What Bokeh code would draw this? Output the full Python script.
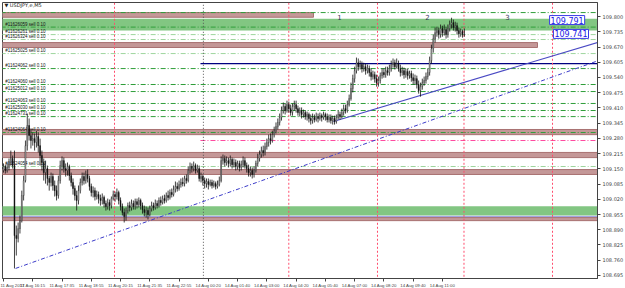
from bokeh.plotting import figure
from bokeh.models import Range1d, FixedTicker, NumeralTickFormatter, Label
from bokeh.embed import file_html
from bokeh.resources import INLINE
from bokeh.core.properties import value

# ---------------- data ----------------
first_open = 109.143
close = [109.160,109.143,109.156,109.177,109.194,109.164,108.865,108.853,108.895,108.929,
109.036,109.100,109.249,109.335,109.292,109.271,109.279,109.262,109.288,109.249,
109.207,109.177,109.134,109.151,109.109,109.092,109.117,109.079,109.057,109.036,
109.100,109.164,109.185,109.151,109.143,109.160,109.121,109.092,109.066,109.036,
109.015,109.057,109.092,109.117,109.100,109.126,109.109,109.075,109.049,109.057,
109.032,109.040,109.023,109.015,109.028,109.002,108.989,109.006,108.993,109.023,
109.040,109.032,109.049,109.015,108.989,108.964,108.947,108.972,108.993,108.985,
109.002,108.989,109.010,108.998,109.015,108.993,108.976,108.964,108.972,108.955,
108.981,108.993,108.985,109.002,108.993,109.015,109.006,109.023,109.015,109.036,
109.028,109.049,109.040,109.062,109.075,109.066,109.083,109.092,109.087,109.109,
109.100,109.143,109.160,109.151,109.164,109.143,109.151,109.109,109.117,109.100,
109.087,109.096,109.083,109.092,109.079,109.087,109.075,109.083,109.100,109.185,
109.194,109.177,109.185,109.173,109.190,109.168,109.177,109.160,109.173,109.156,
109.168,109.185,109.164,109.151,109.134,109.143,109.126,109.143,109.173,109.194,
109.211,109.228,109.220,109.245,109.262,109.279,109.271,109.296,109.313,109.330,
109.348,109.369,109.399,109.416,109.399,109.424,109.407,109.390,109.416,109.424,
109.407,109.390,109.399,109.382,109.390,109.373,109.382,109.365,109.356,109.369,
109.360,109.373,109.365,109.377,109.369,109.382,109.373,109.360,109.369,109.356,
109.365,109.352,109.369,109.382,109.373,109.390,109.407,109.399,109.424,109.450,
109.493,109.535,109.569,109.603,109.586,109.595,109.578,109.586,109.569,109.578,
109.561,109.544,109.552,109.535,109.518,109.527,109.548,109.561,109.552,109.569,
109.561,109.578,109.595,109.603,109.586,109.599,109.578,109.561,109.569,109.552,
109.565,109.548,109.557,109.539,109.527,109.535,109.510,109.484,109.501,109.518,
109.527,109.544,109.561,109.612,109.663,109.706,109.731,109.740,109.723,109.749,
109.731,109.744,109.723,109.749,109.766,109.774,109.753,109.761,109.740,109.727,
109.736,109.723,109.725]
high = [109.173,109.168,109.173,109.194,109.228,109.207,109.228,108.908,108.921,108.951,
109.057,109.121,109.271,109.386,109.365,109.313,109.305,109.301,109.313,109.305,
109.279,109.228,109.194,109.185,109.164,109.121,109.134,109.130,109.100,109.079,
109.121,109.185,109.203,109.198,109.173,109.177,109.168,109.134,109.109,109.079,
109.057,109.079,109.109,109.134,109.134,109.143,109.147,109.121,109.087,109.075,
109.070,109.057,109.053,109.040,109.045,109.036,109.015,109.023,109.019,109.032,
109.057,109.053,109.066,109.057,109.028,109.002,108.981,108.985,109.006,109.010,
109.019,109.015,109.023,109.023,109.028,109.023,109.006,108.993,108.989,108.985,
108.993,109.010,109.006,109.019,109.015,109.028,109.032,109.036,109.040,109.049,
109.057,109.062,109.066,109.079,109.096,109.092,109.100,109.109,109.113,109.121,
109.126,109.160,109.177,109.173,109.181,109.173,109.168,109.164,109.134,109.126,
109.113,109.109,109.109,109.104,109.104,109.100,109.096,109.100,109.117,109.203,
109.211,109.207,109.203,109.198,109.207,109.198,109.194,109.190,109.185,109.185,
109.185,109.203,109.198,109.177,109.168,109.160,109.156,109.160,109.185,109.215,
109.228,109.245,109.249,109.262,109.279,109.296,109.301,109.313,109.330,109.348,
109.365,109.386,109.416,109.433,109.429,109.441,109.437,109.424,109.429,109.441,
109.441,109.420,109.412,109.412,109.403,109.399,109.394,109.390,109.382,109.386,
109.382,109.390,109.386,109.390,109.386,109.394,109.390,109.386,109.382,109.382,
109.377,109.377,109.382,109.399,109.394,109.407,109.424,109.424,109.441,109.467,
109.518,109.552,109.586,109.625,109.621,109.612,109.608,109.603,109.599,109.595,
109.591,109.578,109.569,109.565,109.552,109.544,109.561,109.578,109.578,109.586,
109.586,109.595,109.612,109.621,109.616,109.621,109.612,109.595,109.586,109.582,
109.578,109.578,109.569,109.569,109.557,109.552,109.548,109.527,109.518,109.535,
109.544,109.561,109.578,109.629,109.680,109.723,109.753,109.757,109.753,109.766,
109.761,109.766,109.757,109.766,109.783,109.795,109.787,109.778,109.774,109.753,
109.749,109.744,109.749]
low = [109.134,109.130,109.134,109.143,109.164,109.151,108.725,108.780,108.836,108.874,
108.921,109.015,109.092,109.228,109.271,109.237,109.249,109.228,109.241,109.220,
109.164,109.143,109.100,109.087,109.079,109.057,109.075,109.057,109.032,109.015,
109.023,109.087,109.143,109.134,109.117,109.121,109.100,109.075,109.040,109.015,
108.972,108.998,109.045,109.079,109.083,109.087,109.092,109.057,109.032,109.028,
109.015,109.019,109.002,108.993,108.998,108.985,108.972,108.976,108.972,108.981,
109.015,109.010,109.019,108.998,108.972,108.951,108.921,108.929,108.959,108.968,
108.972,108.976,108.976,108.981,108.985,108.976,108.959,108.947,108.942,108.934,
108.947,108.968,108.972,108.976,108.981,108.985,108.993,108.998,109.002,109.006,
109.015,109.019,109.028,109.032,109.049,109.053,109.057,109.070,109.075,109.075,
109.087,109.092,109.130,109.134,109.139,109.130,109.134,109.096,109.092,109.079,
109.066,109.070,109.062,109.075,109.066,109.070,109.062,109.066,109.075,109.092,
109.168,109.160,109.164,109.156,109.160,109.151,109.156,109.143,109.147,109.139,
109.143,109.156,109.151,109.134,109.117,109.117,109.109,109.113,109.134,109.160,
109.181,109.198,109.203,109.207,109.232,109.245,109.254,109.262,109.284,109.301,
109.318,109.335,109.356,109.386,109.382,109.390,109.390,109.377,109.377,109.399,
109.390,109.377,109.373,109.365,109.369,109.360,109.356,109.348,109.339,109.343,
109.348,109.352,109.348,109.356,109.352,109.360,109.356,109.348,109.348,109.343,
109.339,109.339,109.343,109.360,109.360,109.365,109.377,109.386,109.390,109.416,
109.441,109.476,109.518,109.557,109.569,109.574,109.561,109.565,109.552,109.557,
109.544,109.527,109.531,109.518,109.501,109.501,109.514,109.535,109.539,109.539,
109.548,109.548,109.565,109.582,109.574,109.578,109.565,109.544,109.548,109.535,
109.539,109.531,109.535,109.522,109.510,109.510,109.493,109.471,109.458,109.488,
109.505,109.514,109.531,109.548,109.599,109.646,109.689,109.714,109.706,109.710,
109.714,109.719,109.706,109.710,109.736,109.749,109.740,109.736,109.723,109.710,
109.714,109.710,109.714]

time_tick_bars = [0, 16, 32, 48, 64, 80, 96, 112, 128, 144, 160, 176, 192, 208, 224, 240]
time_tick_labels = ["11 Aug 2017", "11 Aug 16:15", "11 Aug 17:35", "11 Aug 18:55", "11 Aug 20:15",
                    "11 Aug 21:35", "11 Aug 22:55", "14 Aug 00:20", "14 Aug 01:40", "14 Aug 03:00",
                    "14 Aug 04:20", "14 Aug 05:40", "14 Aug 07:00", "14 Aug 08:20", "14 Aug 09:40",
                    "14 Aug 11:00"]
price_ticks = [109.800, 109.735, 109.670, 109.605, 109.540, 109.475, 109.410, 109.345, 109.280,
               109.215, 109.150, 109.085, 109.020, 108.955, 108.890, 108.825, 108.760, 108.695]

# zones (bottom, top, right end in bars)
green_zone_bottom = [109.741, 108.951]
green_zone_top = [109.791, 108.990]
brown_zone_bottom = [109.797, 109.668, 109.296, 109.198, 109.126, 108.929]
brown_zone_top = [109.817, 109.689, 109.318, 109.220, 109.147, 108.942]
brown_zone_end = [169.5, 292.0, 330, 330, 330, 330]

# order lines
order_prices = [109.817, 109.755, 109.723, 109.702, 109.642, 109.578, 109.510, 109.480,
                109.429, 109.399, 109.373, 109.305, 109.160]
order_labels = ["", "#11626059 sell 0.10", "#11626261 sell 0.10", "#11626324 sell 0.10",
                "#11625025 sell 0.10", "#11624062 sell 0.10", "#11624060 sell 0.10",
                "#11625012 sell 0.10", "#11624063 sell 0.10", "#11625030 sell 0.10",
                "#11624731 sell 0.10", "#11624064 sell 0.10", "#11624054 sell 0.10"]
order_light = [False, False, True, True, True, False, False, False, False, False, False, False, True]

pink_level = 109.271
pink_start = 107.7
navy_level = 109.599
navy_start = 107.7
lavender_level = 108.947

trend_solid_x = [180.4, 326.0]
trend_solid_y = [109.352, 109.692]
trend_dash_x = [6.6, 326.0]
trend_dash_y = [108.725, 109.614]

red_vlines = [60.7, 156.0, 204.5, 251.8, 300.2]
day_separator = 109.3

zone_labels = ["109.791", "109.741"]
zone_label_x = [298.6, 300.7]
zone_label_y = [109.785, 109.726]

number_text = ["1", "2", "3"]
number_x = [183.7, 231.8, 275.6]
number_y = [109.800, 109.800, 109.800]

current_price_text = "109.725"

# ---------------- figure ----------------
X0, X1 = -0.55, 324.8
Y0, Y1 = 108.682, 109.860

p = figure(frame_width=595, frame_height=276, output_backend="svg", toolbar_location=None,
           x_range=Range1d(X0, X1), y_range=Range1d(Y0, Y1),
           y_axis_location="right", x_axis_location="below",
           min_border_left=2, min_border_top=2, min_border_right=28, min_border_bottom=10)
p.background_fill_color = "white"
p.border_fill_color = "white"
p.outline_line_color = "#444444"
p.xgrid.visible = False
p.ygrid.visible = False

FONT = "DejaVu Sans"
SMALL = "Liberation Sans"

# zones
p.quad(left=[X0 - 1] * 2, right=[X1 + 5] * 2, bottom=green_zone_bottom, top=green_zone_top,
       fill_color="#82c682", line_color=None)
p.quad(left=[X0 - 1] * len(brown_zone_bottom), right=brown_zone_end,
       bottom=brown_zone_bottom, top=brown_zone_top,
       fill_color="#c49898", line_color="#a87272", line_width=1)
p.segment(x0=[X0 - 1], x1=[X1 + 5], y0=[lavender_level], y1=[lavender_level],
          line_color="#9a9ae0", line_width=1)

# order lines
for pr, lt in zip(order_prices, order_light):
    p.segment(x0=[X0 - 1], x1=[X1 + 5], y0=[pr], y1=[pr],
              line_color="#9ed69e" if lt else "#2f9e3a", line_width=1, line_dash="5 2 1 2")
for pr, txt in zip(order_prices, order_labels):
    if txt:
        p.text(x=[1.0], y=[pr + 0.0025], text=[txt], text_font=value(SMALL),
               text_font_size="4.5px", text_color="#111111", text_baseline="bottom",
               text_align="left")

# pink + navy levels
p.segment(x0=[pink_start], x1=[X1 + 5], y0=[pink_level], y1=[pink_level],
          line_color="#ff4aa0", line_width=1, line_dash="5 2 1 2")
p.segment(x0=[navy_start], x1=[X1 + 5], y0=[navy_level], y1=[navy_level],
          line_color="#000080", line_width=1.2)

# vertical lines
for vx in red_vlines:
    p.segment(x0=[vx], x1=[vx], y0=[Y0 - 1], y1=[Y1 + 1], line_color="#ff4d6d",
              line_width=1, line_dash="2 2")
p.segment(x0=[day_separator], x1=[day_separator], y0=[Y0 - 1], y1=[Y1 + 1],
          line_color="#555555", line_width=1, line_dash="1 2")

# trend lines
p.line(trend_solid_x, trend_solid_y, line_color="#4a4ac4", line_width=1.1)
p.line(trend_dash_x, trend_dash_y, line_color="#3b3bc8", line_width=1, line_dash="4 2 1 2")

# candles
opens = [first_open] + close[:-1]
idx = list(range(len(close)))
p.segment(x0=idx, x1=idx, y0=low, y1=high, line_color="#111111", line_width=0.8)
bull = [i for i in idx if close[i] >= opens[i]]
bear = [i for i in idx if close[i] < opens[i]]
p.vbar(x=bull, width=0.45, bottom=[opens[i] for i in bull], top=[close[i] for i in bull],
       fill_color="white", line_color="#222222", line_width=0.5)
p.vbar(x=bear, width=0.45, bottom=[close[i] for i in bear], top=[opens[i] for i in bear],
       fill_color="#111111", line_color="#111111", line_width=0.5)

# numbers
p.text(x=number_x, y=number_y, text=number_text, text_font=value(FONT), text_font_size="7px",
       text_color="#3a3a5a", text_align="center", text_baseline="middle")

# zone price labels
for tx, lx, ly in zip(zone_labels, zone_label_x, zone_label_y):
    p.add_layout(Label(x=lx, y=ly, text=tx, text_font=FONT, text_font_size="8px",
                       text_color="#1a1ae6", text_baseline="middle", text_align="left",
                       background_fill_color="white", border_line_color="#3a3ae6",
                       border_line_width=1, padding=1))

# title
p.add_layout(Label(x=0.5, y=109.848, text="\u25bc USDJPY,e,M5", text_font=FONT,
                   text_font_size="5px", text_color="#222222", text_baseline="middle"))

# current price box on axis
p.add_layout(Label(x=X1, y=close[-1], text=current_price_text, text_font=FONT,
                   text_font_size="5px", text_color="white", text_baseline="middle",
                   background_fill_color="black", x_offset=2, padding=1))

# axes
xa = p.xaxis[0]
xa.ticker = FixedTicker(ticks=time_tick_bars)
xa.major_label_overrides = {t: l for t, l in zip(time_tick_bars, time_tick_labels)}
xa.major_label_text_font = SMALL
xa.major_label_text_font_size = "4.3px"
xa.major_label_text_align = "left"
xa.major_tick_out = 3
xa.major_tick_in = 0
xa.minor_tick_out = 0
xa.minor_tick_in = 0
xa.major_label_standoff = 1
xa.axis_line_color = "#444444"
xa.major_tick_line_color = "#444444"

ya = p.yaxis[0]
ya.ticker = FixedTicker(ticks=price_ticks)
ya.formatter = NumeralTickFormatter(format="0.000")
ya.major_label_text_font = FONT
ya.major_label_text_font_size = "5px"
ya.major_tick_out = 3
ya.major_tick_in = 0
ya.minor_tick_out = 0
ya.minor_tick_in = 0
ya.major_label_standoff = 2
ya.axis_line_color = "#444444"
ya.major_tick_line_color = "#444444"

open("out.html", "w").write(file_html(p, INLINE))
